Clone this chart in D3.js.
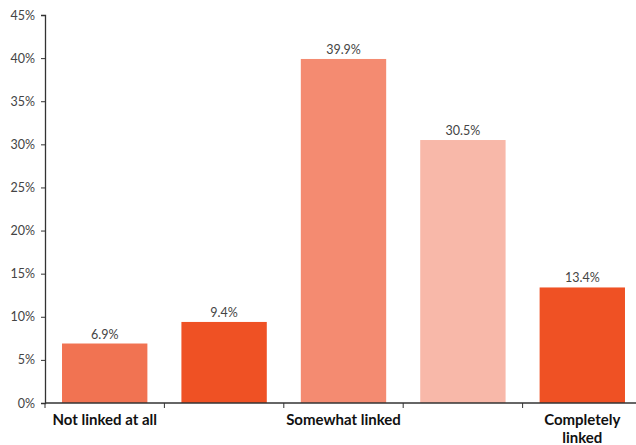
<!DOCTYPE html>
<html>
<head>
<meta charset="utf-8">
<script src="https://cdn.jsdelivr.net/npm/d3@7"></script>
<style>
  html, body { margin: 0; padding: 0; background: #fff; }
  svg { display: block; }
</style>
</head>
<body>
<svg id="chart" width="636" height="445"></svg>
<script>
// Share of responses by how linked the items are
const categories = ["Not linked at all", "", "Somewhat linked", "", "Completely linked"];
const values = [6.9, 9.4, 39.9, 30.5, 13.4];
const barColors = ["#F17352", "#EF5124", "#F48B71", "#F8B8A9", "#EF5124"];
const yTicks = [0, 5, 10, 15, 20, 25, 30, 35, 40, 45];

const svg = d3.select("#chart");
const margin = { left: 45, top: 15, bottom: 42 };
const height = 445;
const plotRight = 642;

const x = d3.scaleBand()
  .domain(d3.range(values.length))
  .range([margin.left, plotRight])
  .paddingInner(0.285)
  .paddingOuter(0.1425);

const y = d3.scaleLinear()
  .domain([0, 45])
  .range([height - margin.bottom, margin.top]);

// y axis
const yAxis = svg.append("g")
  .attr("transform", `translate(${margin.left},0)`)
  .call(d3.axisLeft(y).tickValues(yTicks).tickFormat(d => d + "%").tickSize(4).tickPadding(6));
yAxis.select(".domain").attr("stroke", "#333").attr("stroke-width", 1.3);
yAxis.selectAll(".tick line").attr("stroke", "#333");
yAxis.selectAll("text")
  .attr("fill", "#444")
  .style("font-family", "Lato, 'Open Sans', sans-serif")
  .style("font-size", "12.5px");

// bars
svg.append("g").selectAll("rect")
  .data(values)
  .join("rect")
  .attr("x", (d, i) => x(i))
  .attr("width", x.bandwidth())
  .attr("y", d => y(d))
  .attr("height", d => y(0) - y(d))
  .attr("fill", (d, i) => barColors[i]);

// value labels
svg.append("g").selectAll("text")
  .data(values)
  .join("text")
  .attr("x", (d, i) => x(i) + x.bandwidth() / 2)
  .attr("y", d => y(d) - 5)
  .attr("text-anchor", "middle")
  .attr("fill", "#444")
  .style("font-family", "Lato, 'Open Sans', sans-serif")
  .style("font-size", "12.5px")
  .text(d => d.toFixed(1) + "%");

// x axis with ticks at band boundaries
const step = x.step();
const xBoundaries = d3.range(values.length).map(i => x(i) - x.paddingOuter() * step);
const xAxis = svg.append("g").attr("transform", `translate(0,${y(0)})`);
xAxis.append("line")
  .attr("x1", margin.left).attr("x2", plotRight)
  .attr("stroke", "#333").attr("stroke-width", 1.3);
xAxis.selectAll("line.tick")
  .data(xBoundaries)
  .join("line")
  .attr("class", "tick")
  .attr("x1", d => d).attr("x2", d => d)
  .attr("y1", 0).attr("y2", 5)
  .attr("stroke", "#333");

// category labels (long ones wrap onto two lines)
const labelGroup = svg.append("g");
categories.forEach((c, i) => {
  const lines = c === "Completely linked" ? ["Completely", "linked"] : [c];
  lines.forEach((w, k) => {
    labelGroup.append("text")
      .attr("x", x(i) + x.bandwidth() / 2)
      .attr("y", y(0) + 22 + k * 18)
      .attr("text-anchor", "middle")
      .attr("fill", "#111")
      .style("font-family", "Lato, 'Open Sans', sans-serif")
      .style("font-weight", "bold")
      .style("font-size", "15px")
      .text(w);
  });
});
</script>
</body>
</html>
